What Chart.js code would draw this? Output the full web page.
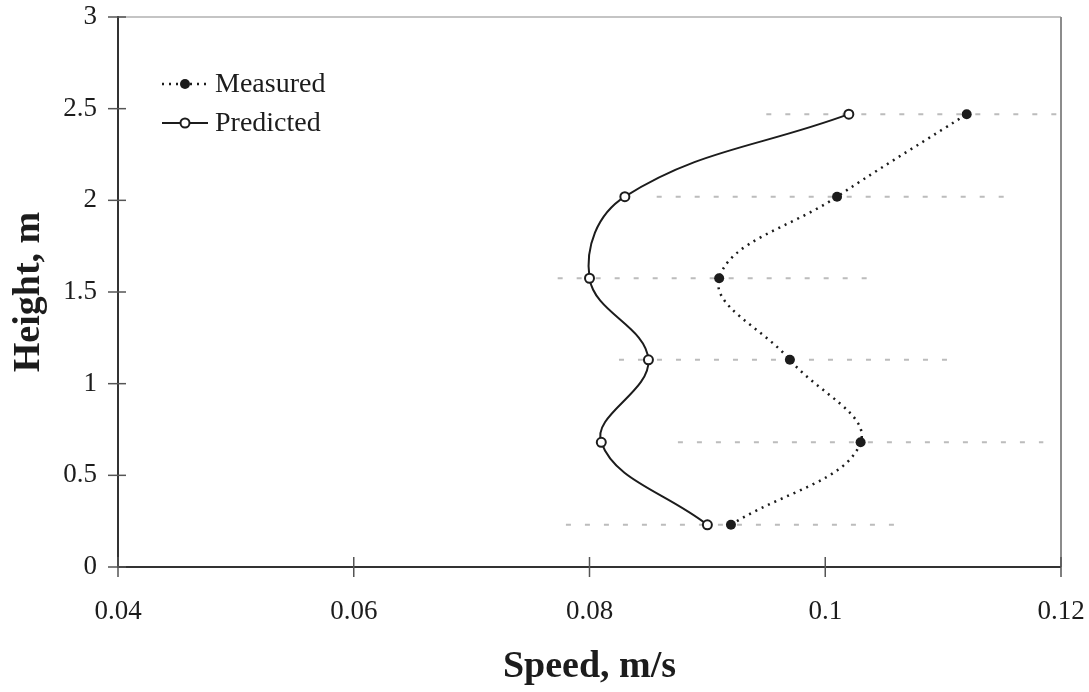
<!DOCTYPE html>
<html>
<head>
<meta charset="utf-8">
<script src="https://cdn.jsdelivr.net/npm/chart.js@4.4.1/dist/chart.umd.min.js"></script>
<style>
  html, body { margin: 0; padding: 0; background: #fff; }
  #wrap { width: 1089px; height: 692px; }
</style>
</head>
<body>
<div id="wrap"><canvas id="chart" width="1089" height="692"></canvas></div>
<script>
// values, bottom to top
const heights = [0.23, 0.68, 1.13, 1.575, 2.02, 2.47]
const measured = [0.092, 0.103, 0.097, 0.091, 0.101, 0.112]
const predicted = [0.090, 0.081, 0.085, 0.080, 0.083, 0.102]
const measuredErr = [0.014, 0.0155, 0.0145, 0.0137, 0.0153, 0.017]

const xTicks = [0.04, 0.06, 0.08, 0.1, 0.12]
const xTickLabels = ['0.04', '0.06', '0.08', '0.1', '0.12']
const yTicks = [0, 0.5, 1, 1.5, 2, 2.5, 3]
const yTickLabels = ['0', '0.5', '1', '1.5', '2', '2.5', '3']
const seriesNames = ['Measured', 'Predicted']

const serif = '"Liberation Serif", "DejaVu Serif", serif'
const ink = '#1c1c1c'

function line(ctx, x0, y0, x1, y1) {
    ctx.beginPath()
    ctx.moveTo(x0, y0)
    ctx.lineTo(x1, y1)
    ctx.stroke()
}

// horizontal grey dashed error bars around the measured points
const errorBars = {
    id: 'errorBars',
    beforeDatasetsDraw(chart) {
        const { ctx, chartArea: a, scales: { x, y } } = chart
        ctx.save()
        ctx.beginPath()
        ctx.rect(a.left, 0, a.right - a.left + 7, chart.height)
        ctx.clip()
        ctx.strokeStyle = '#bcbcbc'
        ctx.lineWidth = 2
        ctx.setLineDash([5, 14])
        heights.forEach((h, i) => {
            const py = y.getPixelForValue(h)
            const x0 = x.getPixelForValue(measured[i] - measuredErr[i])
            const x1 = x.getPixelForValue(measured[i] + measuredErr[i])
            line(ctx, x0, py, x1, py)
        })
        ctx.restore()
    }
}

// plot frame and tick marks crossing the axes
const frame = {
    id: 'frame',
    beforeDatasetsDraw(chart) {
        const { ctx, chartArea: a, scales: { x, y } } = chart
        ctx.save()
        ctx.lineWidth = 2
        ctx.strokeStyle = '#c4c4c4'
        line(ctx, a.left, a.top, a.right, a.top)
        ctx.strokeStyle = '#8c8c8c'
        line(ctx, a.right, a.top, a.right, a.bottom)
        ctx.strokeStyle = '#333'
        line(ctx, a.left, a.top - 1, a.left, a.bottom + 1)
        line(ctx, a.left, a.bottom, a.right, a.bottom)
        ctx.lineWidth = 1.5
        ctx.strokeStyle = '#555'
        yTicks.forEach(v => {
            const py = y.getPixelForValue(v)
            line(ctx, a.left - 10, py, a.left + 8, py)
        })
        xTicks.forEach(v => {
            const px = x.getPixelForValue(v)
            line(ctx, px, a.bottom - 10, px, a.bottom + 10)
        })
        ctx.restore()
    }
}

// legend in the upper left corner of the plot
const legendBox = {
    id: 'legendBox',
    afterDraw(chart) {
        const ctx = chart.ctx
        const rows = [84, 123]
        ctx.save()
        ctx.font = '28px ' + serif
        ctx.fillStyle = ink
        ctx.textBaseline = 'middle'
        rows.forEach((ry, i) => {
            ctx.strokeStyle = ink
            if (i === 0) {
                ctx.lineWidth = 2.5
                ctx.setLineDash([2, 5])
            } else {
                ctx.lineWidth = 2
                ctx.setLineDash([])
            }
            line(ctx, 162, ry, 208, ry)
            ctx.setLineDash([])
            ctx.beginPath()
            ctx.arc(185, ry, i === 0 ? 5 : 4.5, 0, Math.PI * 2)
            ctx.fillStyle = i === 0 ? ink : '#fff'
            ctx.fill()
            if (i === 1) {
                ctx.lineWidth = 2
                ctx.stroke()
            }
            ctx.fillStyle = ink
            ctx.fillText(seriesNames[i], 215, ry + 1)
        })
        ctx.restore()
    }
}

const measuredPoints = heights.map((h, i) => ({ x: measured[i], y: h }))
const predictedPoints = heights.map((h, i) => ({ x: predicted[i], y: h }))

new Chart(document.getElementById('chart'), {
    type: 'scatter',
    data: {
        datasets: [
            {
                label: seriesNames[0],
                data: measuredPoints,
                showLine: true,
                tension: 0.4,
                borderColor: ink,
                borderWidth: 2.5,
                borderDash: [2, 5],
                pointRadius: 5,
                pointBackgroundColor: ink,
                pointBorderColor: ink,
                pointBorderWidth: 0
            },
            {
                label: seriesNames[1],
                data: predictedPoints,
                showLine: true,
                tension: 0.4,
                borderColor: ink,
                borderWidth: 2,
                pointRadius: 4.5,
                pointBackgroundColor: '#fff',
                pointBorderColor: ink,
                pointBorderWidth: 2
            }
        ]
    },
    options: {
        responsive: false,
        animation: false,
        layout: { padding: { top: 17, right: 28, left: 0, bottom: 0 } },
        plugins: {
            legend: { display: false },
            tooltip: { enabled: false }
        },
        scales: {
            x: {
                type: 'linear',
                min: 0.04,
                max: 0.12,
                afterBuildTicks: s => { s.ticks = xTicks.map(v => ({ value: v })) },
                afterFit: s => {
                    s.height = 125
                    s.paddingLeft = 0
                    s.paddingRight = 0
                },
                grid: { display: false, drawTicks: false },
                border: { display: false },
                ticks: {
                    callback: v => xTickLabels[xTicks.indexOf(v)],
                    font: { family: serif, size: 27 },
                    color: ink,
                    padding: 29,
                    maxRotation: 0,
                    autoSkip: false
                },
                title: {
                    display: true,
                    text: 'Speed, m/s',
                    font: { family: serif, size: 38, weight: 'bold' },
                    color: ink,
                    padding: { top: 0, bottom: 2 }
                }
            },
            y: {
                type: 'linear',
                min: 0,
                max: 3,
                afterBuildTicks: s => { s.ticks = yTicks.map(v => ({ value: v })) },
                afterFit: s => {
                    s.width = 118
                    s.paddingTop = 0
                    s.paddingBottom = 0
                },
                grid: { display: false, drawTicks: false },
                border: { display: false },
                ticks: {
                    callback: v => yTickLabels[yTicks.indexOf(v)],
                    font: { family: serif, size: 27 },
                    color: ink,
                    padding: 21,
                    autoSkip: false
                },
                title: {
                    display: true,
                    text: 'Height, m',
                    font: { family: serif, size: 38, weight: 'bold' },
                    color: ink,
                    padding: { top: 6, bottom: 0 }
                }
            }
        }
    },
    plugins: [errorBars, frame, legendBox]
})
</script>
</body>
</html>
